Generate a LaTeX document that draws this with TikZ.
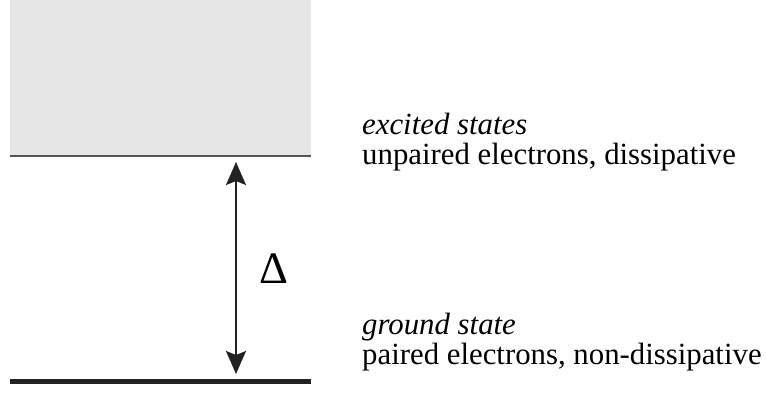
\documentclass[tikz,border=0pt]{standalone}
\usepackage{fontspec}
\setmainfont{Liberation Serif}
\usetikzlibrary{arrows.meta}
\definecolor{bandgray}{HTML}{E6E6E6}
\definecolor{edgegray}{HTML}{555555}
\definecolor{darkline}{HTML}{222222}
\begin{document}
\begin{tikzpicture}[x=1pt,y=-1pt,
  lbl/.style={anchor=base west,inner sep=0pt,font=\fontsize{30.8}{36}\selectfont},
  gaparrow/.style={line width=2pt,darkline,{Stealth[length=23pt,width=20pt,inset=4pt]}-{Stealth[length=23pt,width=20pt,inset=4pt]},shorten <=6pt,shorten >=7pt}]
\useasboundingbox (0,0) rectangle (766,392);
\fill[bandgray] (10,0) rectangle (311,156);
\draw[edgegray,line width=1.6pt] (10,156) coordinate (tl) -- (311,156) coordinate (tr);
\draw[darkline,line width=5pt] (10,381) coordinate (bl) -- (311,381) coordinate (br);
\coordinate (atop) at (236,156);
\coordinate (abot) at (236,381);
\draw[gaparrow] (atop) -- (abot);
\node[anchor=base west,inner sep=0pt,font=\fontsize{45}{50}\selectfont] (delta) at (259,283) {Δ};
\node[lbl] (ex) at (362,134) {\itshape excited states};
\node[lbl] (up) at (362,164) {unpaired electrons, dissipative};
\node[lbl] (gs) at (362,334) {\itshape ground state};
\node[lbl] (pe) at (362,364) {paired electrons, non-dissipative};
\end{tikzpicture}
\end{document}
